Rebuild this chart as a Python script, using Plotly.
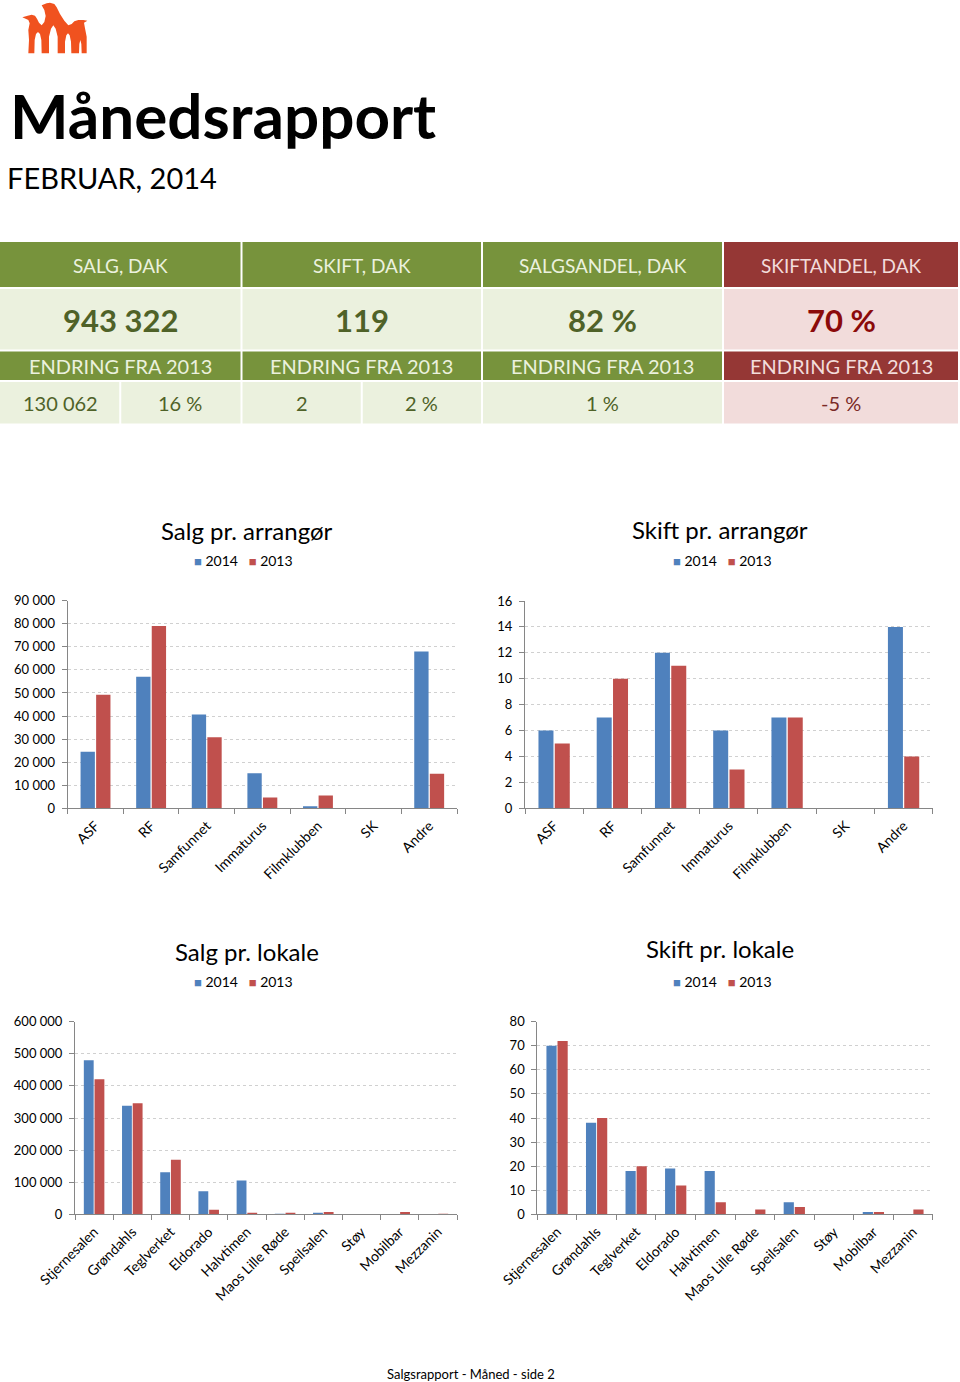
import plotly.graph_objects as go

W, H = 960, 1382
FONT = "Lato, 'Open Sans', sans-serif"

# ---------------- data ----------------
arr_cats = ["ASF", "RF", "Samfunnet", "Immaturus", "Filmklubben", "SK", "Andre"]
salg_arr_2014 = [24500, 57000, 40700, 15200, 900, 0, 68000]
salg_arr_2013 = [49200, 79000, 30800, 4700, 5600, 0, 15000]
skift_arr_2014 = [6, 7, 12, 6, 7, 0, 14]
skift_arr_2013 = [5, 10, 11, 3, 7, 0, 4]

lok_cats = ["Stjernesalen", "Grøndahls", "Teglverket", "Eldorado", "Halvtimen",
            "Maos Lille Røde", "Speilsalen", "Støy", "Mobilbar", "Mezzanin"]
salg_lok_2014 = [480000, 338000, 131000, 72000, 105000, 1000, 5000, 0, 0, 0]
salg_lok_2013 = [421000, 346000, 170000, 14000, 5000, 3000, 7000, 0, 7000, 1000]
skift_lok_2014 = [70, 38, 18, 19, 18, 0, 5, 0, 1, 0]
skift_lok_2013 = [72, 40, 20, 12, 5, 2, 3, 0, 1, 2]

kpi_headers = ["SALG, DAK", "SKIFT, DAK", "SALGSANDEL, DAK", "SKIFTANDEL, DAK"]
kpi_values = ["943 322", "119", "82 %", "70 %"]
kpi_change_label = "ENDRING FRA 2013"
kpi_changes = [["130 062", "16 %"], ["2", "2 %"], ["1 %"], ["-5 %"]]

series_names = ["2014", "2013"]
chart_titles = ["Salg pr. arrangør", "Skift pr. arrangør", "Salg pr. lokale", "Skift pr. lokale"]

BLUE = "#4F81BD"
RED = "#C0504D"
GREEN = "#77933C"
LIGHT_GREEN = "#EBF1DE"
DARK_GREEN = "#4F6228"
DARK_RED_H = "#953735"
PINK = "#F2DCDB"


def px(x):
    return x / W


def py(y):
    return 1 - y / H


fig = go.Figure()

# ---------------- charts ----------------
charts = [
    (arr_cats, salg_arr_2014, salg_arr_2013, (67.7, 457, 600.7, 808.3), [0, 90000], 10000),
    (arr_cats, skift_arr_2014, skift_arr_2013, (525, 932.7, 601, 808.3), [0, 16], 2),
    (lok_cats, salg_lok_2014, salg_lok_2013, (75, 457, 1021.7, 1214.3), [0, 600000], 100000),
    (lok_cats, skift_lok_2014, skift_lok_2013, (537.3, 932.7, 1021.7, 1214.3), [0, 80], 10),
]
legend_pos = [(243, 560), (722, 560), (243, 981), (722, 981)]
title_pos = [(247, 530), (720, 529), (247, 951), (720, 949)]

annotations = []
shapes = []

for i, (cats, s14, s13, (x0, x1, y0, y1), yr, dt) in enumerate(charts):
    n = "" if i == 0 else str(i + 1)
    for name, vals, col in [(series_names[0], s14, BLUE), (series_names[1], s13, RED)]:
        fig.add_trace(go.Bar(x=cats, y=vals, name=name, marker_color=col,
                             marker_line_width=0, xaxis="x" + n, yaxis="y" + n,
                             showlegend=False))
    fig.update_layout(**{
        "xaxis" + n: dict(domain=[px(x0), px(x1)], anchor="y" + n, type="category",
                          showline=True, linecolor="#868686", linewidth=1,
                          ticks="outside", tickson="boundaries", ticklen=5, tickcolor="#868686",
                          tickangle=-45, tickfont=dict(size=14, color="#000"),
                          ticklabelstandoff=3,
                          showgrid=False, fixedrange=True, automargin=False),
        "yaxis" + n: dict(domain=[py(y1), py(y0)], anchor="x" + n, range=yr, dtick=dt,
                          showline=True, linecolor="#868686", linewidth=1,
                          ticks="outside", ticklen=5, tickcolor="#868686",
                          tickformat=",d", tickfont=dict(size=13, color="#000"),
                          ticklabelstandoff=4,
                          showgrid=True, gridcolor="#D0D0D0", griddash="dot", gridwidth=1,
                          zeroline=False, fixedrange=True, automargin=False),
    })
    # legend (compact, Excel-like)
    leg_text = ("<span style='color:%s;font-size:13px'>■</span> %s"
                "   <span style='color:%s;font-size:13px'>■</span> %s"
                % (BLUE, series_names[0], RED, series_names[1]))
    annotations.append(dict(x=px(legend_pos[i][0]), y=py(legend_pos[i][1]), xref="paper", yref="paper",
                            text=leg_text, showarrow=False, xanchor="center", yanchor="middle",
                            font=dict(size=14, color="#000")))

for i, t in enumerate(chart_titles):
    annotations.append(dict(x=px(title_pos[i][0]), y=py(title_pos[i][1]), xref="paper", yref="paper",
                            text=t, showarrow=False, xanchor="center", yanchor="middle",
                            font=dict(size=24, color="#000")))

# ---------------- header ----------------
annotations.append(dict(x=px(8), y=py(115), xref="paper", yref="paper", text="<b>Månedsrapport</b>",
                        showarrow=False, xanchor="left", yanchor="middle",
                        font=dict(size=62, color="#000")))
annotations.append(dict(x=px(5), y=py(178), xref="paper", yref="paper", text="FEBRUAR, 2014",
                        showarrow=False, xanchor="left", yanchor="middle",
                        font=dict(size=29, color="#000")))


def rect(x0, y0, x1, y1, color):
    shapes.append(dict(type="rect", xref="paper", yref="paper", x0=px(x0), x1=px(x1),
                       y0=py(y1), y1=py(y0), fillcolor=color, line_width=0, layer="below"))


def txt(x, y, t, size, color, bold=False):
    annotations.append(dict(x=px(x), y=py(y), xref="paper", yref="paper",
                            text=("<b>%s</b>" % t) if bold else t, showarrow=False,
                            xanchor="center", yanchor="middle", font=dict(size=size, color=color)))


cols = [(0, 240.5), (242.5, 481), (483, 722), (724, 958)]
rows = [(242, 287), (289, 349.5), (351.5, 380), (382, 423.5)]
for ci, (cx0, cx1) in enumerate(cols):
    red = ci == 3
    head = DARK_RED_H if red else GREEN
    body = PINK if red else LIGHT_GREEN
    htxt = "#F2DCDB" if red else "#EBF1DE"
    vcol = "#8B0A0A" if red else DARK_GREEN
    ccol = "#7A2A28" if red else DARK_GREEN
    rect(cx0, rows[0][0], cx1, rows[0][1], head)
    rect(cx0, rows[1][0], cx1, rows[1][1], body)
    rect(cx0, rows[2][0], cx1, rows[2][1], head)
    cm = (cx0 + cx1) / 2
    txt(cm, 265, kpi_headers[ci], 19, htxt)
    txt(cm, 320, kpi_values[ci], 31, vcol, bold=True)
    txt(cm, 366, kpi_change_label, 20, htxt)
    ch = kpi_changes[ci]
    if len(ch) == 2:
        mid = cx0 + (cx1 - cx0) / 2
        rect(cx0, rows[3][0], mid - 1, rows[3][1], body)
        rect(mid + 1, rows[3][0], cx1, rows[3][1], body)
        txt((cx0 + mid) / 2, 403, ch[0], 20, ccol)
        txt((mid + cx1) / 2, 403, ch[1], 20, ccol)
    else:
        rect(cx0, rows[3][0], cx1, rows[3][1], body)
        txt(cm, 403, ch[0], 20, ccol)

# ---------------- logo (three penguins) ----------------
ORANGE = "#F0521F"
logo_outline = [
    (40, 160), (42, 120), (40, 90), (44, 70), (40, 60), (22, 52), (38, 47), (50, 44), (60, 47),
    (66, 56), (72, 68), (80, 76), (88, 66), (92, 48), (88, 30), (80, 16), (95, 10), (105, 8),
    (118, 12), (125, 22), (135, 42), (148, 62), (160, 76), (170, 72), (178, 64), (190, 60),
    (205, 60), (217, 62), (207, 68), (210, 85), (215, 110), (215, 160),
    (200, 160), (199, 132), (196, 120), (193, 132), (192, 160),
    (169, 160), (168, 125), (164, 106), (159, 100), (154, 106), (150, 125), (150, 160),
    (128, 160), (128, 110), (122, 86), (115, 76), (108, 86), (102, 110), (102, 160),
    (80, 160), (79, 120), (75, 102), (69, 96), (63, 102), (59, 120), (58, 160),
]
logo_path = "M " + " L ".join("%.5f,%.5f" % (px(15 + a / 3.0), py(b / 3.0)) for a, b in logo_outline) + " Z"
shapes.append(dict(type="path", xref="paper", yref="paper", path=logo_path,
                   fillcolor=ORANGE, line_width=0))

annotations.append(dict(x=px(471), y=py(1374), xref="paper", yref="paper",
                        text="Salgsrapport - Måned - side 2", showarrow=False,
                        xanchor="center", yanchor="middle", font=dict(size=13, color="#000")))

fig.update_layout(
    width=W, height=H, margin=dict(l=0, r=0, t=0, b=0, autoexpand=False),
    paper_bgcolor="white", plot_bgcolor="white",
    font=dict(family=FONT, color="#000"),
    separators=", ",
    barmode="group", bargap=0.44, bargroupgap=0.08,
    annotations=annotations, shapes=shapes, showlegend=False,
)

fig.write_html("out.html", config={"displayModeBar": False},
               post_script="document.body.style.margin='0';document.body.style.overflow='hidden';")
